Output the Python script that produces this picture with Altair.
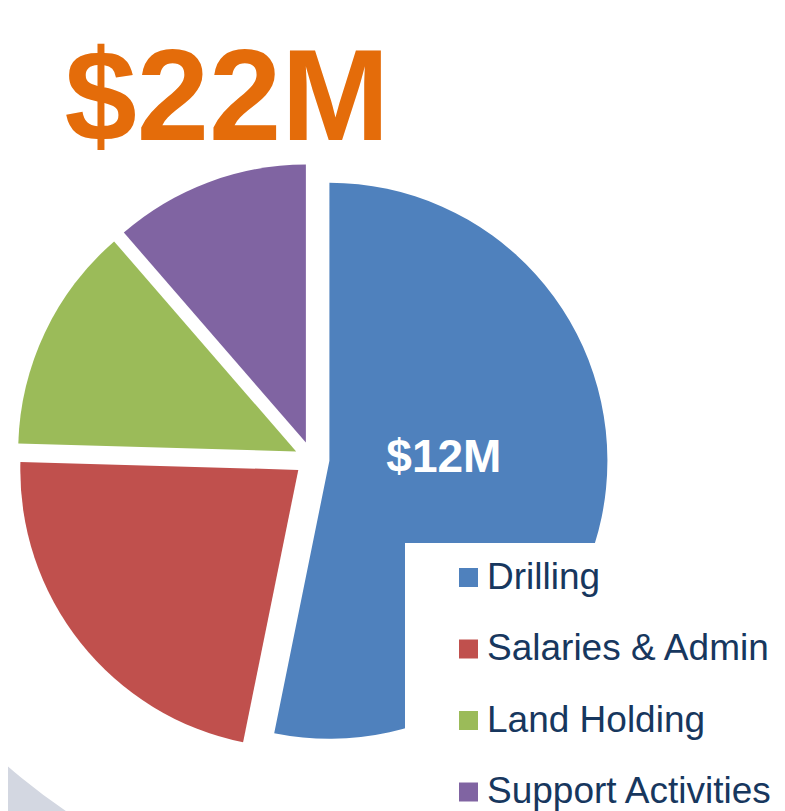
import altair as alt
import pandas as pd

# ---- data ----
categories = ["Drilling", "Salaries & Admin", "Land Holding", "Support Activities"]
values = [11.7, 4.9, 2.9, 2.5]          # $M
slice_labels = ["$12M", "", "", ""]
colors = ["#4F81BD", "#C0504D", "#9BBB59", "#8064A2"]
title_text = "$22M"

df = pd.DataFrame({
    "category": categories,
    "value": values,
    "label": slice_labels,
    "order": list(range(len(categories))),
})

# ---- layout constants (chart pixel coords) ----
W, H = 769, 803
CX, CY = 304, 451      # pie centre
R = 278                # pie radius
D = 17.5               # explode distance

base = alt.Chart(df).transform_joinaggregate(
    total="sum(value)"
).transform_window(
    cum="sum(value)", sort=[alt.SortField("order")], frame=[None, 0]
).transform_calculate(
    mid="(datum.cum - datum.value/2) / datum.total * 2 * PI",
).transform_calculate(
    px=f"{CX} + {D} * sin(datum.mid)",
    py=f"{CY} - {D} * cos(datum.mid)",
)

color_scale = alt.Scale(domain=categories, range=colors)

# decorative pale grey background corner
backdrop = alt.Chart(df.head(1)).mark_arc(
    innerRadius=600, outerRadius=1100, theta=0, theta2=6.2832,
    color="#D3D7E1", stroke=None,
).encode(x=alt.value(394), y=alt.value(306))

pie = base.mark_arc(outerRadius=R, stroke=None).encode(
    theta=alt.Theta("value:Q", stack=True),
    order=alt.Order("order:Q"),
    x=alt.X("px:Q", scale=None, axis=None),
    y=alt.Y("py:Q", scale=None, axis=None),
    color=alt.Color(
        "category:N",
        scale=color_scale,
        sort=categories,
        legend=alt.Legend(
            title=None,
            orient="none",
            legendX=442,
            legendY=551,
            symbolType="square",
            symbolSize=361,
            symbolStrokeWidth=0,
            symbolOpacity=1,
            labelFontSize=37,
            labelFont="Liberation Sans",
            labelColor="#17375E",
            labelOffset=0,
            rowPadding=33.5,
            padding=0,
            labelLimit=400,
        ),
    ),
)

slice_text = base.mark_text(
    radius=115, font="Liberation Sans", fontWeight="bold", fontSize=46,
    color="white", dy=-14,
).encode(
    theta=alt.Theta("value:Q", stack=True),
    order=alt.Order("order:Q"),
    x=alt.X("px:Q", scale=None, axis=None),
    y=alt.Y("py:Q", scale=None, axis=None),
    text="label:N",
)

legend_box = alt.Chart(df.head(1)).mark_rect(color="white").encode(
    x=alt.value(397), x2=alt.value(W), y=alt.value(535), y2=alt.value(H)
)

title = alt.Chart(df.head(1)).mark_text(
    text=title_text, font="Liberation Sans", fontWeight="bold",
    fontSize=130, color="#E46C0A", baseline="alphabetic", align="center",
).encode(x=alt.value(219), y=alt.value(132))

chart = alt.layer(backdrop, pie, slice_text, legend_box, title).properties(
    width=W, height=H, autosize=alt.AutoSizeParams(type="none"), padding=0,
    background="white",
).configure_view(stroke=None)

chart.save("out.html", embed_options={"renderer": "svg", "actions": False})
